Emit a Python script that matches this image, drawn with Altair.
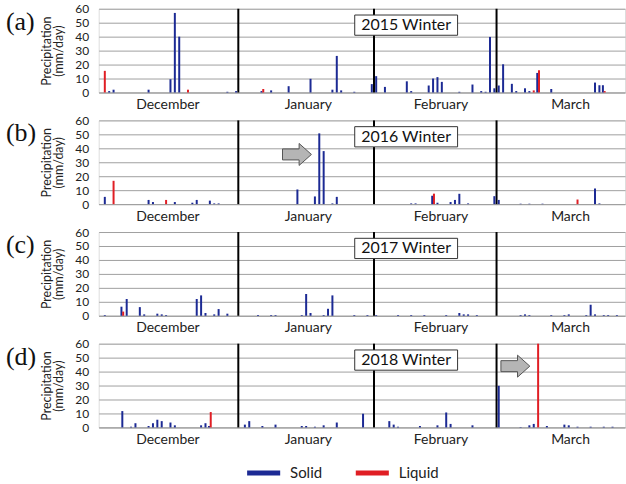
import altair as alt
import pandas as pd

# ---------------- data ----------------
months = ["December", "January", "February", "March"]
month_label_pos = [14.3, 46.4, 76.7, 106.3]
month_bounds = [30.5, 61.5, 89.5]
y_ticks = [0, 10, 20, 30, 40, 50, 60]
panel_letters = ["(a)", "(b)", "(c)", "(d)"]
winter_labels = ["2015 Winter", "2016 Winter", "2017 Winter", "2018 Winter"]

solid_2015_day = [1, 2, 10, 15, 16, 17, 28, 30, 36, 38, 42, 47, 52, 53, 54, 57, 61, 62, 64, 69, 70,
                  74, 75, 76, 77, 81, 84, 86, 87, 88, 89, 90, 91, 93, 94, 96, 97, 99, 102, 112, 113, 114]
solid_2015_mm = [1, 2, 2, 9.5, 57, 40, 0.5, 1, 1, 1.5, 4.5, 9.8, 2, 26.2, 1.5, 0.5, 6, 11.7, 4, 8, 1,
                 5, 10, 11, 7.6, 0.5, 5.7, 1, 0.5, 39.8, 3, 5, 20.2, 6.2, 1, 3, 1, 14, 2.5, 7.1, 5.2, 5.2]
liquid_2015_day = [0, 19, 36, 98, 99, 114]
liquid_2015_mm = [15.5, 2, 2.5, 1.5, 16, 1]

solid_2016_day = [0, 10, 11, 16, 20, 21, 24, 25, 26, 44, 48, 49, 50, 52, 53, 70, 71, 75, 76, 79, 80,
                  81, 83, 89, 90, 95, 97, 100, 112, 113]
solid_2016_mm = [5.2, 3, 1.5, 1.5, 1, 3, 2.5, 0.5, 0.5, 10.5, 5.5, 50.7, 38, 0.5, 5.2, 0.5, 0.5, 6, 1,
                 1.5, 3, 7.4, 0.5, 5.7, 3, 0.3, 0.3, 0.3, 11.2, 0.5]
liquid_2016_day = [2, 14, 75, 108]
liquid_2016_mm = [16.7, 3, 7.5, 3.3]

solid_2017_day = [0, 4, 5, 8, 9, 12, 13, 14, 21, 22, 23, 25, 26, 28, 35, 38, 39, 45, 46, 47, 50, 51,
                  52, 57, 60, 62, 67, 70, 73, 78, 81, 82, 83, 85, 95, 96, 97, 102, 105, 106, 110, 111,
                  112, 114, 115, 117]
solid_2017_mm = [0.5, 6.5, 12, 6.2, 1, 1.5, 1, 0.5, 12, 14.6, 2, 1, 4.8, 1.5, 0.5, 0.5, 0.5, 0.5, 15.6,
                 2, 0.5, 5, 14.6, 0.5, 0.5, 0.5, 0.5, 0.5, 0.5, 0.5, 2, 1, 1, 0.5, 0.5, 1, 0.5, 0.5,
                 0.5, 1, 0.5, 7.9, 1, 0.5, 0.5, 0.5]
liquid_2017_day = [4]
liquid_2017_mm = [3]

solid_2018_day = [4, 6, 7, 10, 11, 12, 13, 15, 16, 22, 23, 24, 32, 33, 36, 39, 45, 46, 48, 50, 53, 59,
                  65, 66, 67, 72, 76, 78, 79, 84, 90, 95, 97, 98, 101, 105, 106, 108, 111, 114, 116]
solid_2018_mm = [11.7, 0.5, 3, 1, 3, 5.5, 4.5, 3.5, 1.5, 1.5, 3, 1, 2, 4.5, 1, 2, 1, 1, 0.5, 1.5, 3.5,
                 9.8, 4.5, 2, 0.5, 1, 1.5, 10.7, 2.5, 1.5, 29.8, 0.3, 1.5, 2.5, 1, 2, 1.5, 0.5, 0.5,
                 0.5, 0.5]
liquid_2018_day = [24, 99]
liquid_2018_mm = [11, 60]

panels = [
    (solid_2015_day, solid_2015_mm, liquid_2015_day, liquid_2015_mm, None),
    (solid_2016_day, solid_2016_mm, liquid_2016_day, liquid_2016_mm, (43.9, 35.6)),
    (solid_2017_day, solid_2017_mm, liquid_2017_day, liquid_2017_mm, None),
    (solid_2018_day, solid_2018_mm, liquid_2018_day, liquid_2018_mm, (93.8, 43.9)),
]

# ---------------- style ----------------
SOLID = "#1c2a94"
LIQUID = "#e01e24"
GRID = "#a0a0a0"
FONT = "Lato"
ARROW = "M-1,-0.38 L0.15,-0.38 L0.15,-0.76 L1,0 L0.15,0.76 L0.15,0.38 L-1,0.38 Z"

label_expr = "{" + ",".join(f"'{p}':'{m}'" for p, m in zip(month_label_pos, months)) + "}[datum.value]"

x_scale = alt.Scale(domain=[-1.4, 118.85], nice=False, zero=False)
y_scale = alt.Scale(domain=[0, 60], nice=False)

x_axis = alt.Axis(values=month_label_pos, labelExpr=label_expr, ticks=False, grid=False,
                  domain=True, domainColor=GRID, labelFontSize=14, labelFont=FONT,
                  labelColor="#222222", labelPadding=5, title=None, labelOverlap=False,
                  labelFlush=False)
y_axis = alt.Axis(values=y_ticks, grid=True, gridColor=GRID, ticks=False, domain=False,
                  labelFontSize=12, labelFont=FONT, labelColor="#222222", labelPadding=10,
                  title=["Precipitation", "(mm/day)"], titleFontSize=12.5, titleFont=FONT,
                  titleFontWeight="normal", titleColor="#222222", titlePadding=9,
                  titleLineHeight=12, labelOverlap=False)

legend = alt.Legend(orient="none", legendX=146, legendY=446, direction="horizontal", title=None,
                    symbolType="stroke", symbolStrokeWidth=5, symbolSize=1100,
                    labelFontSize=15, labelFont=FONT, labelColor="#222222", columnPadding=22,
                    labelOffset=7)


def X(field):
    return alt.X(field, type="quantitative", scale=x_scale, axis=x_axis)


def Y(field):
    return alt.Y(field, type="quantitative", scale=y_scale, axis=y_axis)


def make_panel(i):
    sd, sv, ld, lv, arrow = panels[i]
    both = set(sd) & set(ld)
    rows = []
    for d, v in zip(sd, sv):
        rows.append({"day": d - (0.2 if d in both else 0), "mm": v, "base": 0, "type": "Solid"})
    for d, v in zip(ld, lv):
        rows.append({"day": d + (0.2 if d in both else 0), "mm": v, "base": 0, "type": "Liquid"})
    df = pd.DataFrame(rows)

    bars = alt.Chart(df).mark_rule(strokeWidth=2).encode(
        x=X("day"), y=Y("mm"), y2="base:Q",
        color=alt.Color("type:N", scale=alt.Scale(domain=["Solid", "Liquid"], range=[SOLID, LIQUID]),
                        legend=legend),
    )
    sep_df = pd.DataFrame({"b": month_bounds, "lo": [0] * 3, "hi": [60] * 3})
    seps = alt.Chart(sep_df).mark_rule(color="black", strokeWidth=2).encode(
        x=X("b"), y=Y("lo"), y2="hi:Q"
    )
    box_df = pd.DataFrame({"x1": [57.1], "x2": [80.6], "y1": [41.0], "y2": [55.5],
                           "xc": [68.85], "yc": [48.2], "label": [winter_labels[i]]})
    box = alt.Chart(box_df).mark_rect(fill="white", stroke="#333333", strokeWidth=1).encode(
        x=X("x1"), x2="x2:Q", y=Y("y1"), y2="y2:Q"
    )
    box_text = alt.Chart(box_df).mark_text(font=FONT, fontSize=16, color="#111111").encode(
        x=X("xc"), y=Y("yc"), text="label:N"
    )
    letter = alt.Chart(pd.DataFrame({"t": [panel_letters[i]]})).mark_text(
        font="Liberation Serif", fontSize=26, align="left", baseline="middle", color="#111111"
    ).encode(x=alt.value(-93), y=alt.value(13), text="t:N")

    layers = [seps, bars, box, box_text, letter]
    if arrow is not None:
        adf = pd.DataFrame({"ax": [arrow[0]], "ay": [arrow[1]]})
        arr = alt.Chart(adf).mark_point(shape=ARROW, size=841, filled=True, fill="#b5b5b5",
                                        stroke="#555555", strokeWidth=1, opacity=1).encode(
            x=X("ax"), y=Y("ay")
        )
        layers.append(arr)
    return alt.layer(*layers).properties(width=528, height=84)


chart = alt.vconcat(*[make_panel(i) for i in range(4)], spacing=28, bounds="flush").properties(
    padding={"left": 5, "top": 1, "right": 0, "bottom": 0}
).configure_view(stroke=None).configure(background="white")

chart.save("out.html", embed_options={"renderer": "svg", "actions": False})
